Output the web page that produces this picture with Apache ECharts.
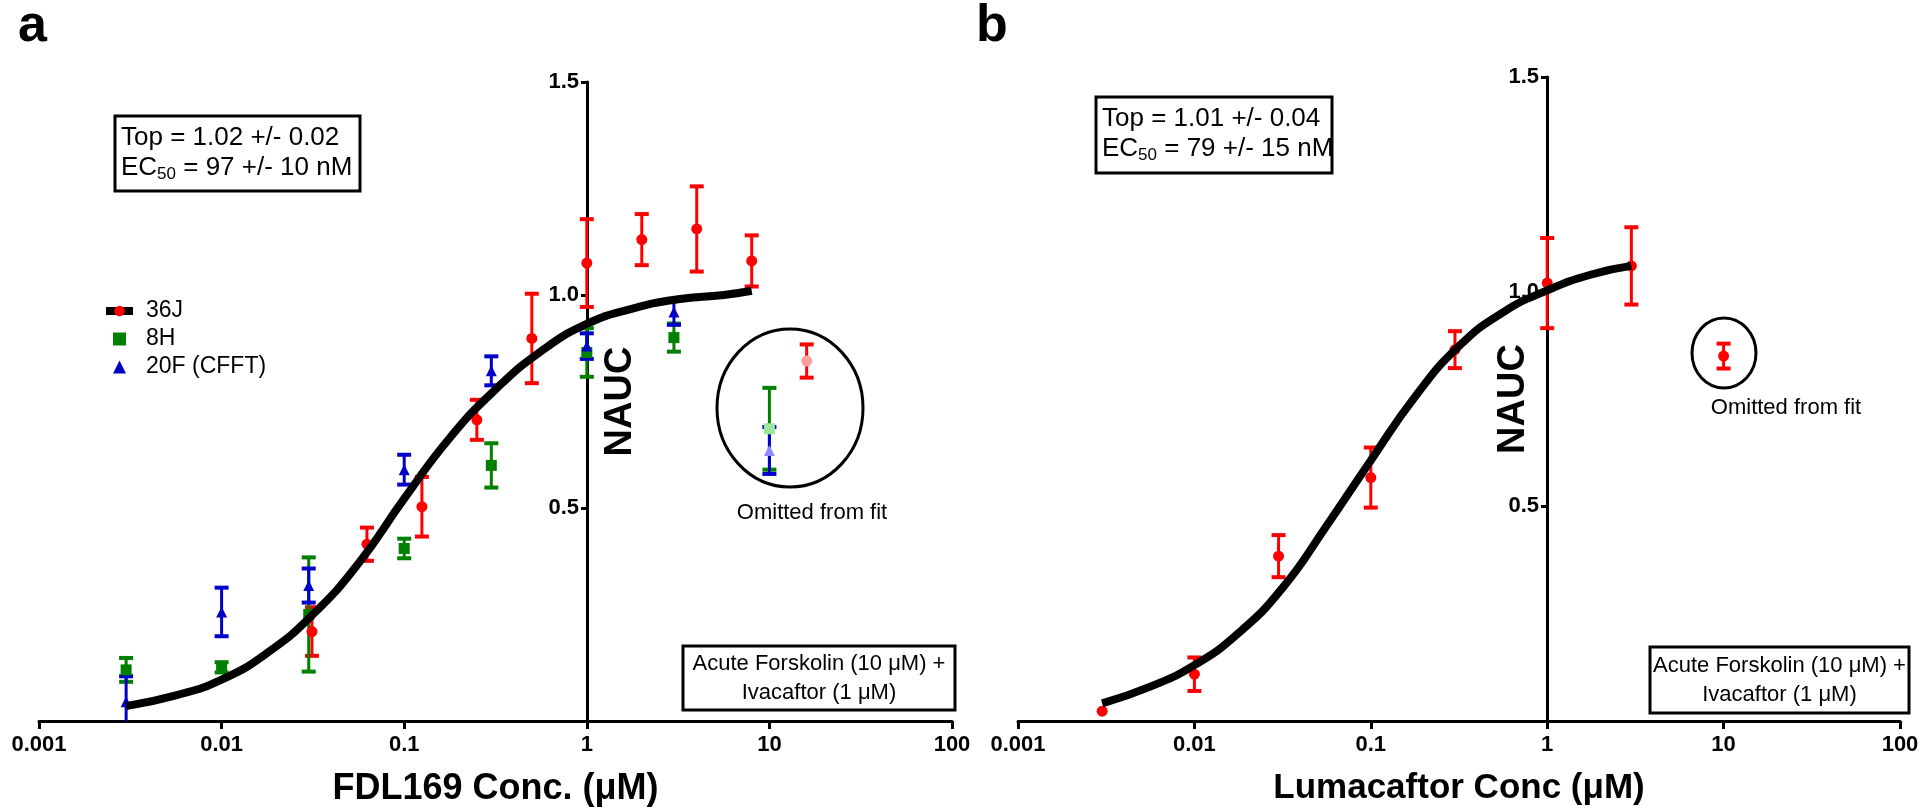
<!DOCTYPE html>
<html>
<head>
<meta charset="utf-8">
<script src="https://cdn.jsdelivr.net/npm/echarts@6/dist/echarts.min.js"></script>
<style>
html, body { margin: 0; padding: 0; background: #fff; }
#chart { width: 1920px; height: 812px; }
</style>
</head>
<body>
<div id="chart"></div>
<script>
// tick labels
const xTickLabels = ['0.001', '0.01', '0.1', '1', '10', '100']
const yTickLabels = ['', '0.5', '1.0', '1.5']

// panel a - FDL169, three donors (conc in uM, NAUC mean, SEM)
const j36Conc = [0.03125, 0.0625, 0.125, 0.25, 0.5, 1, 2, 4, 8]
const j36Mean = [0.21, 0.415, 0.503, 0.707, 0.898, 1.075, 1.13, 1.155, 1.08]
const j36Err = [0.057, 0.039, 0.07, 0.047, 0.105, 0.103, 0.06, 0.1, 0.06]

const h8Conc = [0.003, 0.01, 0.03, 0.1, 0.3, 1, 3]
const h8Mean = [0.12, 0.126, 0.25, 0.405, 0.6, 0.865, 0.9]
const h8Err = [0.028, 0.012, 0.134, 0.023, 0.052, 0.057, 0.033]

const f20Conc = [0.003, 0.01, 0.03, 0.1, 0.3, 1, 3]
const f20Mean = [0.045, 0.256, 0.318, 0.59, 0.822, 0.88, 0.96]
const f20Err = [0.06, 0.057, 0.04, 0.035, 0.034, 0.03, 0.03]

// points left out of the fit
const j36OmitConc = [16]
const j36OmitMean = [0.845]
const j36OmitErr = [0.039]
const h8OmitConc = [10]
const h8OmitMean = [0.686]
const h8OmitErr = [0.096]
const f20OmitConc = [10]
const f20OmitMean = [0.635]
const f20OmitErr = [0.055]

// fitted curve (quarter decade steps)
const fitAConc = [0.003, 0.00562, 0.01, 0.0178, 0.0316, 0.0562, 0.1, 0.178, 0.316, 0.562, 1, 1.78, 3.16, 5.62, 8]
const fitAVal = [0.035, 0.06, 0.097, 0.16, 0.25, 0.37, 0.522, 0.665, 0.778, 0.868, 0.932, 0.968, 0.99, 1.0, 1.01]

// panel b - Lumacaftor
const lumConc = [0.003, 0.01, 0.03, 0.1, 0.3, 1, 3]
const lumMean = [0.023, 0.109, 0.384, 0.567, 0.865, 1.02, 1.06]
const lumErr = [0, 0.039, 0.049, 0.07, 0.043, 0.105, 0.09]
const lumOmitConc = [10]
const lumOmitMean = [0.85]
const lumOmitErr = [0.029]

const fitBConc = [0.003, 0.00562, 0.01, 0.0178, 0.0316, 0.0562, 0.1, 0.178, 0.316, 0.562, 1, 1.78, 3]
const fitBVal = [0.041, 0.08, 0.13, 0.205, 0.31, 0.455, 0.607, 0.755, 0.873, 0.952, 1.003, 1.04, 1.06]

const RED = '#ff0000'
const GREEN = '#008000'
const BLUE = '#0000c8'
const FONT = 'Liberation Sans'

const pairs = (xs, ys) => xs.map((x, i) => [x, ys[i]])

function scatter(name, idx, conc, mean, symbol, color) {
  return {
    type: 'scatter', name: name, xAxisIndex: idx, yAxisIndex: idx, z: 3, silent: true,
    symbol: symbol, symbolSize: 11, itemStyle: { color: color, opacity: 1 },
    data: pairs(conc, mean)
  }
}

function errorBars(name, idx, conc, mean, err, color) {
  return {
    type: 'custom', name: name, xAxisIndex: idx, yAxisIndex: idx, z: 2, silent: true,
    data: conc.map((c, i) => [c, mean[i] - err[i], mean[i] + err[i]]),
    renderItem: function (params, api) {
      const x = api.value(0)
      const lo = api.value(1)
      const hi = api.value(2)
      if (hi - lo <= 0) return
      const top = api.coord([x, hi])
      const bot = api.coord([x, Math.max(lo, 0)])
      const w = 7
      const kids = [
        { type: 'line', shape: { x1: top[0], y1: top[1], x2: bot[0], y2: bot[1] }, style: { stroke: color, lineWidth: 3 } },
        { type: 'line', shape: { x1: top[0] - w, y1: top[1], x2: top[0] + w, y2: top[1] }, style: { stroke: color, lineWidth: 4 } }
      ]
      if (lo >= 0) {
        kids.push({ type: 'line', shape: { x1: bot[0] - w, y1: bot[1], x2: bot[0] + w, y2: bot[1] }, style: { stroke: color, lineWidth: 4 } })
      }
      return { type: 'group', children: kids }
    }
  }
}

function fitLine(name, idx, conc, val) {
  return {
    type: 'line', name: name, xAxisIndex: idx, yAxisIndex: idx, z: 5, silent: true,
    data: pairs(conc, val), smooth: 0.5, symbol: 'circle', showSymbol: false,
    lineStyle: { color: '#000', width: 8 }, itemStyle: { color: RED },
    emphasis: { disabled: true }
  }
}

function xAxis(idx, name, nameSize) {
  return {
    type: 'log', logBase: 10, gridIndex: idx, min: 0.001, max: 100,
    name: name, nameLocation: 'middle', nameGap: 50, nameMoveOverlap: false,
    nameTextStyle: { fontFamily: FONT, fontWeight: 'bold', fontSize: nameSize, color: '#000' },
    axisLine: { show: true, onZero: false, lineStyle: { color: '#000', width: 3 } },
    axisTick: { show: true, length: 8, lineStyle: { color: '#000', width: 3 } },
    minorTick: { show: false },
    splitLine: { show: false },
    axisLabel: {
      margin: 13, fontFamily: FONT, fontWeight: 'bold', fontSize: 22, color: '#000',
      showMinLabel: true, showMaxLabel: true,
      formatter: v => xTickLabels[Math.round(Math.log10(v)) + 3]
    }
  }
}

function yAxis(idx, offset, nameGap) {
  return {
    type: 'value', gridIndex: idx, min: 0, max: 1.5, interval: 0.5, offset: offset,
    name: 'NAUC', nameLocation: 'middle', nameGap: nameGap, nameMoveOverlap: false,
    nameTextStyle: { fontFamily: FONT, fontWeight: 'bold', fontSize: 38, color: '#000' },
    axisLine: { show: true, onZero: false, lineStyle: { color: '#000', width: 3 } },
    axisTick: { show: true, length: 6, lineStyle: { color: '#000', width: 3 } },
    splitLine: { show: false },
    axisLabel: {
      margin: 8, fontFamily: FONT, fontWeight: 'bold', fontSize: 22, color: '#000',
      formatter: v => yTickLabels[Math.round(v / 0.5)]
    }
  }
}

function statBox(x, y, w, h, top, ecVal) {
  const rich = {
    m: { fontFamily: FONT, fontSize: 26, lineHeight: 30, color: '#000' },
    s: { fontFamily: FONT, fontSize: 17, lineHeight: 19, verticalAlign: 'bottom', color: '#000' }
  }
  return {
    type: 'group', children: [
      { type: 'rect', shape: { x: x, y: y, width: w, height: h }, style: { fill: '#fff', stroke: '#000', lineWidth: 3 } },
      { type: 'text', x: x + 6, y: y + 22, style: { text: '{m|' + top + '}', rich: rich, verticalAlign: 'middle' } },
      { type: 'text', x: x + 6, y: y + 52, style: { text: '{m|EC}{s|50}{m| = ' + ecVal + '}', rich: rich, verticalAlign: 'middle' } }
    ]
  }
}

function condBox(x, y, w, h) {
  return {
    type: 'group', children: [
      { type: 'rect', shape: { x: x, y: y, width: w, height: h }, style: { fill: '#fff', stroke: '#000', lineWidth: 3 } },
      {
        type: 'text', x: x + w / 2, y: y + h / 2,
        style: {
          text: 'Acute Forskolin (10 μM) +\nIvacaftor (1 μM)', fontFamily: FONT, fontSize: 22, lineHeight: 29,
          align: 'center', verticalAlign: 'middle', fill: '#000'
        }
      }
    ]
  }
}

function omitNote(cx, cy, rx, ry, tx, ty) {
  return {
    type: 'group', children: [
      { type: 'ellipse', shape: { cx: cx, cy: cy, rx: rx, ry: ry }, style: { fill: 'none', stroke: '#000', lineWidth: 3 }, z: 1 },
      { type: 'text', x: tx, y: ty, style: { text: 'Omitted from fit', fontFamily: FONT, fontSize: 22, align: 'center', verticalAlign: 'middle', fill: '#000' } }
    ]
  }
}

const chart = echarts.init(document.getElementById('chart'))

const option = {
  backgroundColor: '#fff',
  animation: false,
  textStyle: { fontFamily: FONT },
  grid: [
    { left: 39, top: 82, width: 913, height: 639, outerBoundsMode: 'none' },
    { left: 1018, top: 77, width: 882, height: 644, outerBoundsMode: 'none' }
  ],
  xAxis: [xAxis(0, 'FDL169 Conc. (μM)', 36), xAxis(1, 'Lumacaftor Conc (μM)', 35)],
  yAxis: [yAxis(0, -548, -53), yAxis(1, -529, 14)],
  legend: {
    orient: 'vertical', left: 102, top: 297, padding: 0, itemGap: 0,
    itemWidth: 27, itemHeight: 13, selectedMode: false,
    lineStyle: { width: 8, color: '#000' },
    textStyle: { fontFamily: FONT, fontSize: 23, lineHeight: 28, color: '#000', padding: [0, 0, 0, 8] },
    data: [
      { name: '36J' },
      { name: '8H', icon: 'path://M0,0H10V10H0Z' },
      { name: '20F (CFFT)', icon: 'path://M5,0L10,10L0,10Z' }
    ]
  },
  series: [
    fitLine('36J', 0, fitAConc, fitAVal),
    scatter('36J', 0, j36Conc, j36Mean, 'circle', RED),
    scatter('8H', 0, h8Conc, h8Mean, 'rect', GREEN),
    scatter('20F (CFFT)', 0, f20Conc, f20Mean, 'triangle', BLUE),
    errorBars('36J', 0, j36Conc, j36Mean, j36Err, RED),
    errorBars('8H', 0, h8Conc, h8Mean, h8Err, GREEN),
    errorBars('20F (CFFT)', 0, f20Conc, f20Mean, f20Err, BLUE),
    errorBars('36J omitted', 0, j36OmitConc, j36OmitMean, j36OmitErr, RED),
    errorBars('8H omitted', 0, h8OmitConc, h8OmitMean, h8OmitErr, GREEN),
    errorBars('20F omitted', 0, f20OmitConc, f20OmitMean, f20OmitErr, BLUE),
    scatter('36J omitted', 0, j36OmitConc, j36OmitMean, 'circle', '#ff9e9e'),
    scatter('8H omitted', 0, h8OmitConc, h8OmitMean, 'rect', '#9be89b'),
    scatter('20F omitted', 0, f20OmitConc, f20OmitMean, 'triangle', '#8c8cff'),

    fitLine('Lumacaftor fit', 1, fitBConc, fitBVal),
    scatter('Lumacaftor', 1, lumConc, lumMean, 'circle', RED),
    errorBars('Lumacaftor', 1, lumConc, lumMean, lumErr, RED),
    errorBars('Lumacaftor omitted', 1, lumOmitConc, lumOmitMean, lumOmitErr, RED),
    scatter('Lumacaftor omitted', 1, lumOmitConc, lumOmitMean, 'circle', RED)
  ],
  graphic: [
    { type: 'text', x: 18, y: 27, style: { text: 'a', fontFamily: FONT, fontWeight: 'bold', fontSize: 52, fill: '#000', verticalAlign: 'middle' } },
    { type: 'text', x: 976, y: 27, style: { text: 'b', fontFamily: FONT, fontWeight: 'bold', fontSize: 52, fill: '#000', verticalAlign: 'middle' } },
    statBox(115, 116, 245, 75, 'Top = 1.02 +/- 0.02', '97 +/- 10 nM'),
    statBox(1096, 97, 236, 76, 'Top = 1.01 +/- 0.04', '79 +/- 15 nM'),
    condBox(683, 646, 272, 64),
    condBox(1650, 647, 259, 66),
    omitNote(790, 408, 73, 79, 812, 513),
    omitNote(1724, 353, 32, 35, 1786, 408)
  ]
}

chart.setOption(option)
window.addEventListener('resize', function () {
  chart.resize()
})
</script>
</body>
</html>
